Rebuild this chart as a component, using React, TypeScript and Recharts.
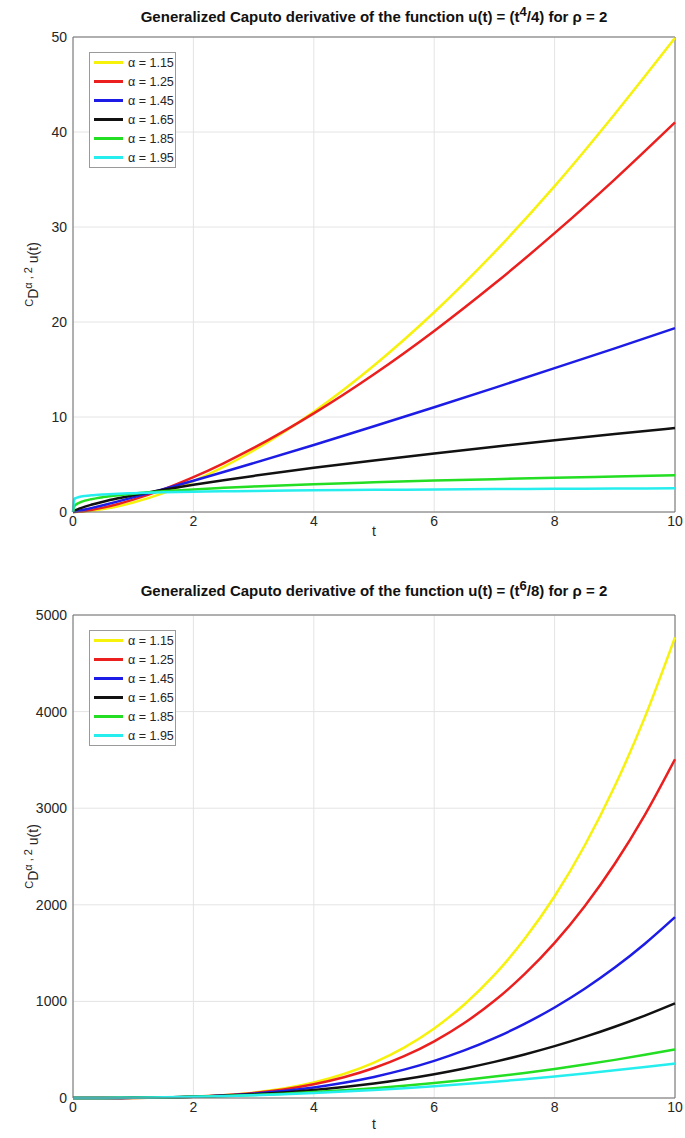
import React from "react";
import {
  LineChart,
  Line,
  XAxis,
  YAxis,
  CartesianGrid,
  ReferenceLine,
  Label,
} from "recharts";

// series labels / colours (same order in both panels)
const alphas = ["1.15", "1.25", "1.45", "1.65", "1.85", "1.95"];
const keys = ["a115", "a125", "a145", "a165", "a185", "a195"];
const colors = ["#f7f20c", "#ec1f1f", "#1c1ce6", "#111111", "#23de23", "#27eeee"];

// panel 1: u(t) = t^4/4
const t1 = [0, 0.02, 0.05, 0.1, 0.2, 0.3, 0.5, 0.75, 1, 1.5, 2, 2.5, 3, 4, 5, 6, 7, 8, 9, 10];
const p1_115 = [0, 0.001, 0.006, 0.02, 0.065, 0.129, 0.308, 0.613, 1, 1.99, 3.25, 4.75, 6.47, 10.56, 15.43, 21.03, 27.33, 34.3, 41.9, 49.9];
const p1_125 = [0, 0.004, 0.015, 0.041, 0.116, 0.213, 0.459, 0.842, 1.297, 2.38, 3.67, 5.13, 6.74, 10.38, 14.5, 19.06, 24.02, 29.35, 35.02, 41.01];
const p1_145 = [0, 0.021, 0.057, 0.122, 0.262, 0.409, 0.717, 1.12, 1.537, 2.4, 3.29, 4.21, 5.15, 7.06, 9.03, 11.03, 13.07, 15.14, 17.23, 19.35];
const p1_165 = [0, 0.114, 0.216, 0.351, 0.571, 0.758, 1.084, 1.44, 1.761, 2.34, 2.86, 3.34, 3.8, 4.65, 5.43, 6.17, 6.88, 7.55, 8.2, 8.83];
const p1_185 = [0, 0.597, 0.786, 0.968, 1.192, 1.346, 1.569, 1.772, 1.932, 2.18, 2.38, 2.54, 2.69, 2.93, 3.13, 3.31, 3.46, 3.61, 3.74, 3.86];
const p1_195 = [0, 1.342, 1.471, 1.576, 1.69, 1.759, 1.851, 1.928, 1.984, 2.07, 2.13, 2.18, 2.22, 2.28, 2.33, 2.37, 2.41, 2.44, 2.47, 2.5];
const yTicks1 = [0, 10, 20, 30, 40, 50];

// panel 2: u(t) = t^6/8
const t2 = [0, 0.5, 1, 1.5, 2, 2.5, 3, 3.5, 4, 4.5, 5, 5.5, 6, 6.5, 7, 7.5, 8, 8.5, 9, 9.5, 10];
const p2_115 = [0, 0.07, 0.95, 4.27, 12.4, 28.2, 55.4, 98.1, 160.7, 248.5, 366.9, 521.9, 720.4, 968.5, 1274, 1645, 2088, 2614, 3229, 3943, 4768];
const p2_125 = [0, 0.1, 1.11, 4.58, 12.5, 27.4, 51.9, 89, 142, 214.4, 310, 432.6, 586.8, 776.4, 1006, 1282, 1606, 1986, 2425, 2931, 3507];
const p2_145 = [0, 0.17, 1.49, 5.23, 12.8, 25.5, 44.8, 72.3, 109.3, 157.5, 218.3, 293.4, 384.4, 492.4, 619.5, 767.3, 937.3, 1131, 1350, 1597, 1872];
const p2_165 = [0, 0.3, 1.96, 5.85, 12.7, 23.2, 38, 57.6, 82.6, 113.5, 150.9, 195.1, 246.9, 306.3, 374.2, 450.9, 536.7, 632.2, 737.4, 853.6, 980.3];
const p2_185 = [0, 0.51, 2.52, 6.4, 12.4, 20.7, 31.5, 45, 61.1, 80.1, 102.1, 127.1, 155.3, 186.7, 221.4, 259.5, 300.9, 346, 394.6, 446.8, 502.8];
const p2_195 = [0, 0.66, 2.84, 6.64, 12.2, 19.4, 28.5, 39.4, 52.1, 66.7, 83.2, 101.7, 122.1, 144.4, 168.7, 195, 223.4, 253.7, 286.1, 320.4, 356.9];
const yTicks2 = [0, 1000, 2000, 3000, 4000, 5000];

const xTicks = [0, 2, 4, 6, 8, 10];

const rows1 = t1.map((t, i) => ({
  t,
  a115: p1_115[i],
  a125: p1_125[i],
  a145: p1_145[i],
  a165: p1_165[i],
  a185: p1_185[i],
  a195: p1_195[i],
}));
const rows2 = t2.map((t, i) => ({
  t,
  a115: p2_115[i],
  a125: p2_125[i],
  a145: p2_145[i],
  a165: p2_165[i],
  a185: p2_185[i],
  a195: p2_195[i],
}));

const FONT = "'Liberation Sans', Arial, Helvetica, sans-serif";
const TEXT = "#262626";
const BOX = "#6e6e6e";

function YLabel(props: any) {
  const vb = props.viewBox || { x: 0, y: 0, width: 0, height: 0 };
  const cx = 38;
  const cy = vb.y + vb.height / 2;
  return (
    <text
      x={cx}
      y={cy}
      transform={`rotate(-90 ${cx} ${cy})`}
      textAnchor="middle"
      fontFamily={FONT}
      fontSize={14}
      fill={TEXT}
    >
      <tspan fontSize={11} dy={-5}>C</tspan>
      <tspan dy={5}>D</tspan>
      <tspan fontSize={11} dy={-6}>α , 2</tspan>
      <tspan dy={6}> u(t)</tspan>
    </text>
  );
}

function XLabel(props: any) {
  const vb = props.viewBox || { x: 0, y: 0, width: 0, height: 0 };
  return (
    <text
      x={vb.x + vb.width / 2}
      y={vb.y + props.dyLabel}
      textAnchor="middle"
      fontFamily={FONT}
      fontSize={14}
      fill={TEXT}
    >
      t
    </text>
  );
}

function LegendBox({ top }: { top: number }) {
  return (
    <div
      style={{
        position: "absolute",
        left: 89,
        top,
        border: "1px solid #9a9a9a",
        background: "#fff",
        width: 85,
        fontFamily: FONT,
        fontSize: 12.5,
        color: TEXT,
      }}
    >
      {alphas.map((a, i) => (
        <div key={a} style={{ height: 19, display: "flex", alignItems: "center" }}>
          <div style={{ marginLeft: 4, width: 29, height: 2.5, background: colors[i] }} />
          <span style={{ marginLeft: 5 }}>α = {a}</span>
        </div>
      ))}
    </div>
  );
}

function Title({ top, power, denom }: { top: number; power: string; denom: string }) {
  return (
    <div
      style={{
        position: "absolute",
        left: 73,
        width: 602,
        top,
        textAlign: "center",
        fontFamily: FONT,
        fontWeight: "bold",
        fontSize: 15,
        color: "#111",
        whiteSpace: "nowrap",
      }}
    >
      Generalized Caputo derivative of the function u(t) = (t
      <sup style={{ fontSize: 13 }}>{power}</sup>/{denom}) for ρ = 2
    </div>
  );
}

function Panel({
  rows,
  yMax,
  yTicks,
  top,
  height,
  marginTop,
  xAxisHeight,
  tLabelY,
  legendTop,
}: any) {
  return (
    <div style={{ position: "absolute", left: 0, top, width: 685, height }}>
      <LineChart
        width={685}
        height={height}
        data={rows}
        margin={{ top: marginTop, right: 10, left: 0, bottom: 0 }}
      >
        <CartesianGrid stroke="#e4e4e4" />
        <XAxis
          type="number"
          dataKey="t"
          domain={[0, 10]}
          ticks={xTicks}
          height={xAxisHeight}
          tickSize={0}
          tickMargin={4}
          stroke={BOX}
          tick={{ fill: TEXT, fontSize: 14, fontFamily: FONT }}
        >
          <Label content={(p: any) => <XLabel {...p} dyLabel={tLabelY} />} />
        </XAxis>
        <YAxis
          type="number"
          domain={[0, yMax]}
          ticks={yTicks}
          width={73}
          tickSize={0}
          tickMargin={6}
          stroke={BOX}
          tick={{ fill: TEXT, fontSize: 14, fontFamily: FONT }}
        >
          <Label content={(p: any) => <YLabel {...p} />} />
        </YAxis>
        <ReferenceLine y={yMax} stroke={BOX} />
        <ReferenceLine x={10} stroke={BOX} />
        {keys.map((k, i) => (
          <Line
            key={k}
            type="monotone"
            dataKey={k}
            stroke={colors[i]}
            strokeWidth={2.5}
            dot={false}
            isAnimationActive={false}
          />
        ))}
      </LineChart>
      <LegendBox top={legendTop} />
    </div>
  );
}

export default function App() {
  return (
    <div
      style={{
        position: "absolute",
        left: 0,
        top: 0,
        width: 685,
        height: 1138,
        background: "#fff",
        overflow: "hidden",
      }}
    >
      <Panel
        rows={rows1}
        yMax={50}
        yTicks={yTicks1}
        top={0}
        height={569}
        marginTop={37}
        xAxisHeight={57}
        tLabelY={24}
        legendTop={52}
      />
      <Panel
        rows={rows2}
        yMax={5000}
        yTicks={yTicks2}
        top={569}
        height={569}
        marginTop={46}
        xAxisHeight={40}
        tLabelY={31}
        legendTop={61}
      />
      <Title top={4} power="4" denom="4" />
      <Title top={578} power="6" denom="8" />
    </div>
  );
}
